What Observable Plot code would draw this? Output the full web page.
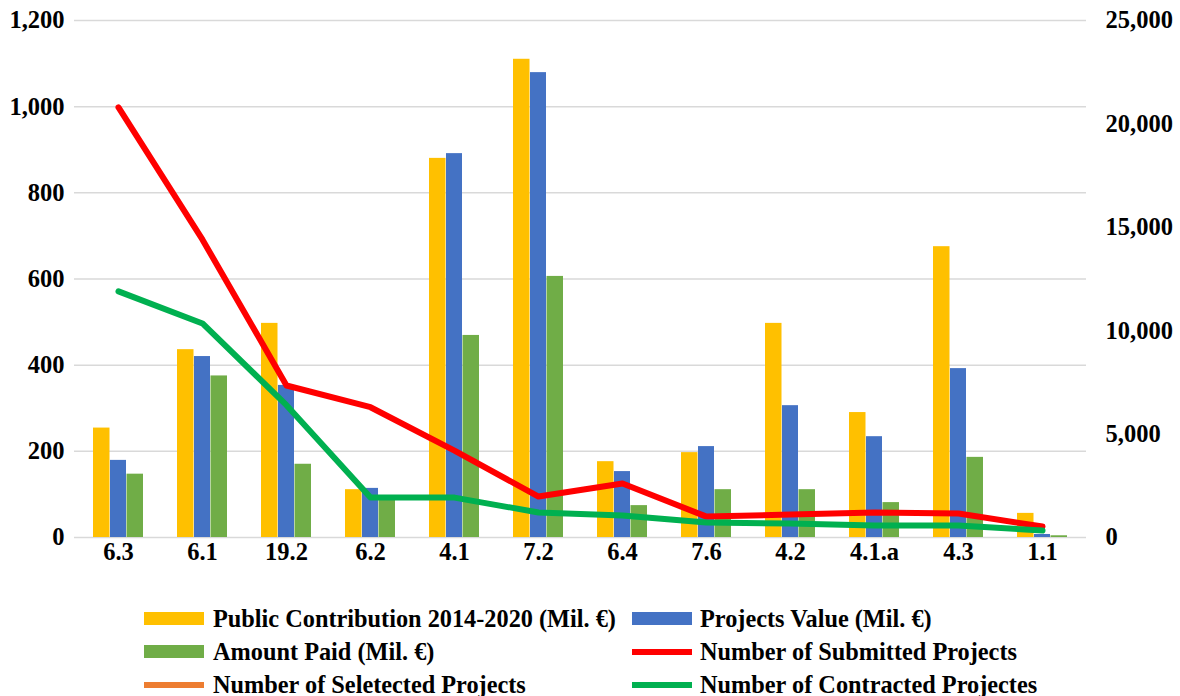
<!DOCTYPE html>
<html>
<head>
<meta charset="utf-8">
<script src="https://cdn.jsdelivr.net/npm/d3@7"></script>
<script src="https://cdn.jsdelivr.net/npm/@observablehq/plot@0.6"></script>
<style>
  html, body { margin: 0; padding: 0; background: #fff; overflow: hidden; }
  body { width: 1180px; height: 696px; font-family: "Liberation Serif", "Times New Roman", serif; font-weight: bold; }
  #chart svg { display: block; }
  .legend { display: grid; grid-template-columns: 488px 548px; padding-left: 144px; padding-top: 2px; }
  .item { display: flex; align-items: center; height: 33px; font-size: 24.3px; color: #000; white-space: nowrap; }
  .sw { width: 60px; margin-right: 9px; flex: none; }
  .item.c2 .sw { margin-right: 8px; }
</style>
</head>
<body>
<div id="chart"></div>
<div class="legend" id="legend"></div>
<script>
const categories = ["6.3","6.1","19.2","6.2","4.1","7.2","6.4","7.6","4.2","4.1.a","4.3","1.1"];
const publicContribution = [254, 436, 497, 111, 880, 1110, 176, 197, 497, 290, 675, 56];
const projectsValue      = [179, 420, 353, 114, 891, 1079, 153, 211, 306, 234, 392, 7];
const amountPaid         = [147, 375, 170, 95, 469, 606, 74, 111, 111, 81, 186, 4];
const submittedProjects  = [20800, 14400, 7350, 6300, 4200, 1980, 2610, 1010, 1110, 1210, 1160, 530];
const contractedProjects = [11900, 10350, 6400, 1930, 1930, 1210, 1060, 720, 680, 580, 580, 340];
const leftTicks  = [0, 200, 400, 600, 800, 1000, 1200];
const rightTicks = [0, 5000, 10000, 15000, 20000, 25000];
const seriesNames = [
  "Public Contribution 2014-2020 (Mil. €)",
  "Projects Value (Mil. €)",
  "Amount Paid (Mil. €)",
  "Number of Submitted Projects",
  "Number of Seletected Projects",
  "Number of Contracted Projectes"
];

const leftMax = 1200, rightMax = 25000;
const k = leftMax / rightMax;
const fmt = d3.format(",");

const bars = categories.map((c, i) => ({cat: c, pc: publicContribution[i], pv: projectsValue[i], ap: amountPaid[i]}));
const lines = categories.map((c, i) => ({cat: c, sub: submittedProjects[i] * k, con: contractedProjects[i] * k}));

const colors = {pc: "#FFC000", pv: "#4472C4", ap: "#70AD47", sub: "#FF0000", sel: "#ED7D31", con: "#00B050"};

const chart = Plot.plot({
  width: 1180,
  height: 600,
  marginLeft: 74,
  marginRight: 94,
  marginTop: 20,
  marginBottom: 63,
  style: {fontFamily: "'Liberation Serif', 'Times New Roman', serif", fontWeight: "bold", fontSize: "24.5px", color: "#000", background: "#fff"},
  x: {type: "band", domain: categories, paddingInner: 0, paddingOuter: 0},
  y: {domain: [0, leftMax]},
  marks: [
    Plot.ruleY(leftTicks, {stroke: "#d9d9d9", strokeWidth: 1.5}),
    Plot.barY(bars, {x: "cat", y: "pc", fill: colors.pc, insetLeft: 17, insetRight: 50.5}),
    Plot.barY(bars, {x: "cat", y: "pv", fill: colors.pv, insetLeft: 34, insetRight: 34}),
    Plot.barY(bars, {x: "cat", y: "ap", fill: colors.ap, insetLeft: 50.5, insetRight: 17}),
    Plot.line(lines, {x: "cat", y: "sub", stroke: colors.sub, strokeWidth: 6, strokeLinejoin: "round"}),
    Plot.line(lines, {x: "cat", y: "con", stroke: colors.con, strokeWidth: 6, strokeLinejoin: "round"}),
    Plot.axisY({anchor: "left", ticks: leftTicks, tickFormat: fmt, tickSize: 0, tickPadding: 10, label: null}),
    Plot.axisY({anchor: "right", ticks: rightTicks.map(v => v * k), tickFormat: d => fmt(Math.round(d / k)), tickSize: 0, tickPadding: 19, label: null}),
    Plot.axisX({tickSize: 0, tickPadding: 5, label: null})
  ]
});
document.getElementById("chart").appendChild(chart);

const legendItems = [
  {name: seriesNames[0], color: colors.pc, h: 13},
  {name: seriesNames[1], color: colors.pv, h: 13},
  {name: seriesNames[2], color: colors.ap, h: 13},
  {name: seriesNames[3], color: colors.sub, h: 6},
  {name: seriesNames[4], color: colors.sel, h: 6},
  {name: seriesNames[5], color: colors.con, h: 6}
];
const legend = document.getElementById("legend");
legendItems.forEach((it, i) => {
  const div = document.createElement("div");
  div.className = "item" + (i % 2 ? " c2" : "");
  const sw = document.createElement("span");
  sw.className = "sw";
  sw.style.height = it.h + "px";
  sw.style.background = it.color;
  div.appendChild(sw);
  div.appendChild(document.createTextNode(it.name));
  legend.appendChild(div);
});
</script>
</body>
</html>
